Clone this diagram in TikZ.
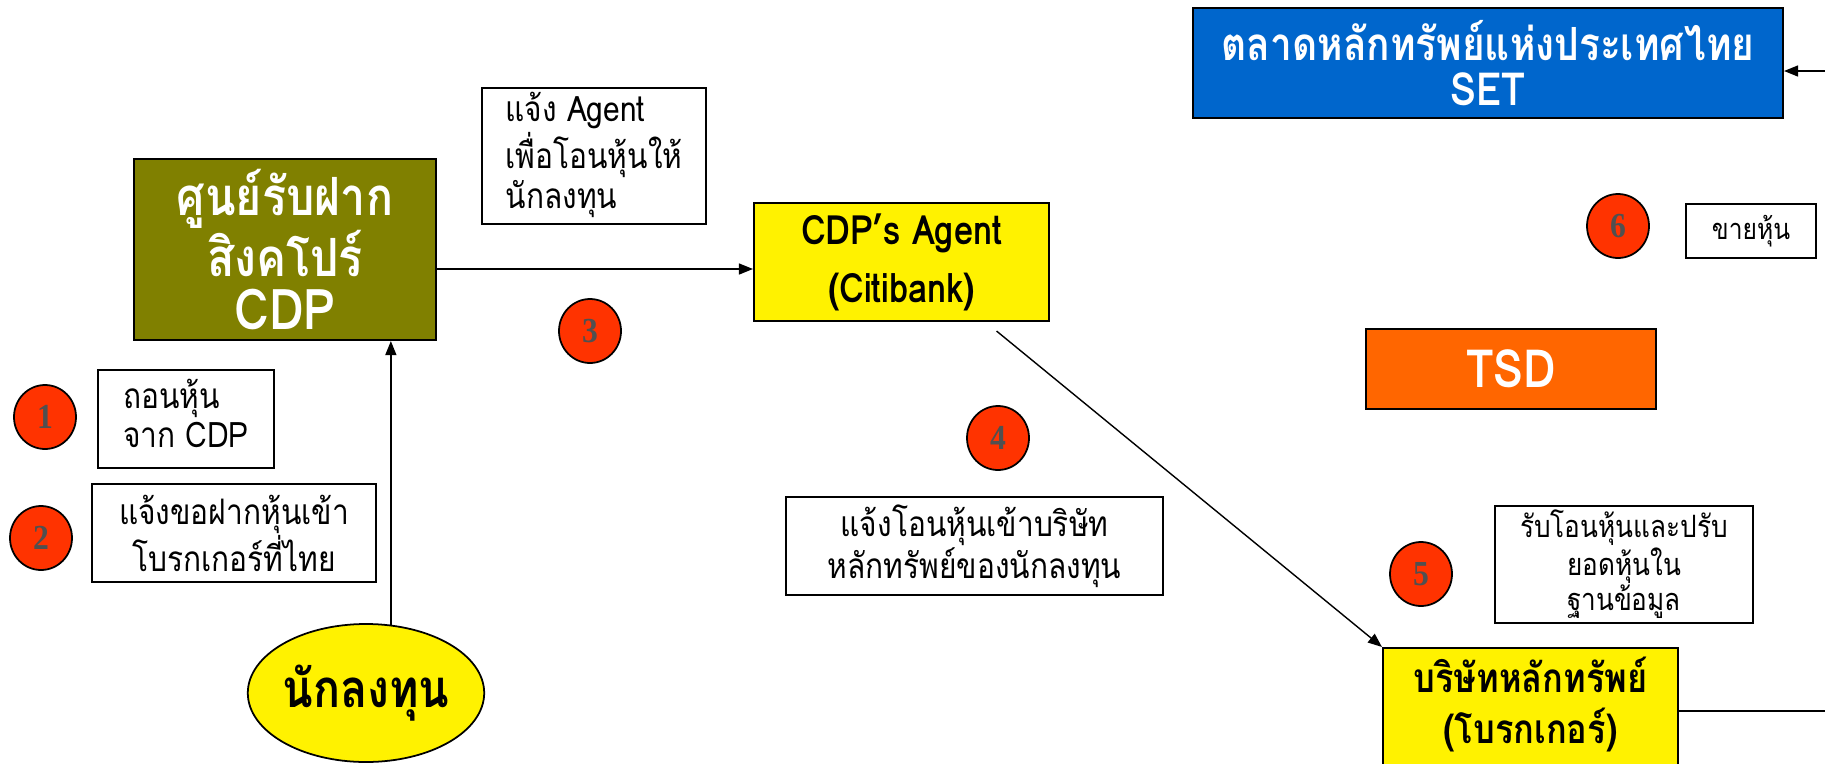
\documentclass[tikz,border=0pt]{standalone}
\usepackage{fontspec}
\newfontfamily\thaifont[Script=Thai,FakeStretch=0.85]{Loma}
\newfontfamily\numfont[FakeStretch=0.9]{Liberation Serif}
\usetikzlibrary{shapes.geometric,arrows.meta,calc}

\definecolor{cdpolive}{RGB}{128,128,0}
\definecolor{setblue}{RGB}{0,102,204}
\definecolor{tsdorange}{RGB}{255,102,0}
\definecolor{stepred}{RGB}{255,51,0}
\definecolor{stepgray}{RGB}{80,80,80}

\begin{document}
\begin{tikzpicture}[font=\thaifont]

% Styles
\tikzset{
	box/.style={
		rectangle, draw=black, line width=1.2pt,
		align=center, inner sep=0pt,
		fill=#1,
	},
	note/.style={
		rectangle, draw=black, line width=1pt,
		align=center, inner sep=0pt, fill=white,
	},
	stepnum/.style={
		ellipse, draw=black, line width=1pt, fill=stepred,
		minimum width=1.24cm, minimum height=1.28cm, inner sep=0pt,
		text=stepgray, font=\numfont\bfseries\fontsize{20}{20}\selectfont,
	},
	arrow/.style={
		line width=0.8pt, -{Triangle[length=0.28cm,width=0.22cm]},
	}
}

% Page
\useasboundingbox (0,0) rectangle (36.5,-15.26);

% Stock exchange (top right)
\node[box=setblue, minimum width=11.8cm, minimum height=2.2cm, text=white,
	font=\thaifont\bfseries\fontsize{26}{26}\selectfont] (set) at (29.76,-1.26)
	{ตลาดหลักทรัพย์แห่งประเทศไทย\\SET};

% Singapore depository
\node[box=cdpolive, minimum width=6.04cm, minimum height=3.62cm, text=white,
	font=\thaifont\bfseries\fontsize{30}{30}\selectfont] (cdp) at (5.70,-4.99)
	{ศูนย์รับฝาก\\สิงคโปร์\\{\fontsize{32}{32}\selectfont CDP}};

% Agent and note 3
\node[note, minimum width=4.48cm, minimum height=2.72cm, align=left,
	font=\thaifont\fontsize{20}{22}\selectfont] (note3) at (11.88,-3.12)
	{\begin{tabular}{@{}l@{}}แจ้ง Agent\\เพื่อโอนหุ้นให้\\นักลงทุน\end{tabular}};
\node[box=yellow, minimum width=5.9cm, minimum height=2.36cm,
	font=\thaifont\bfseries\fontsize{23}{33}\selectfont] (agent) at (18.03,-5.24)
	{CDP’s Agent\\(Citibank)};
\node[stepnum] (s3) at (11.8,-6.62) {3};

% Step 6 and TSD
\node[stepnum] (s6) at (32.36,-4.52) {6};
\node[note, minimum width=2.6cm, minimum height=1.08cm,
	font=\thaifont\fontsize{16.5}{18}\selectfont] (sell) at (35.02,-4.62) {ขายหุ้น};
\node[box=tsdorange, minimum width=5.8cm, minimum height=1.6cm, text=white,
	font=\thaifont\bfseries\fontsize{30}{30}\selectfont] (tsd) at (30.22,-7.38) {TSD};

% Steps 1 and 2
\node[stepnum] (s1) at (0.90,-8.34) {1};
\node[note, minimum width=3.52cm, minimum height=1.96cm,
	font=\thaifont\fontsize{20}{22}\selectfont] (note1) at (3.72,-8.38)
	{\begin{tabular}{@{}l@{}}ถอนหุ้น\\จาก CDP\end{tabular}};
\node[stepnum] (s2) at (0.82,-10.76) {2};
\node[note, minimum width=5.68cm, minimum height=1.96cm,
	font=\thaifont\fontsize{20}{22}\selectfont] (note2) at (4.68,-10.66)
	{แจ้งขอฝากหุ้นเข้า\\โบรกเกอร์ที่ไทย};

% Investor
\node[ellipse, draw=black, line width=1pt, fill=yellow,
	minimum width=4.48cm, minimum height=2.76cm, inner sep=0pt,
	font=\thaifont\bfseries\fontsize{30}{30}\selectfont] (invest) at (7.32,-13.86) {นักลงทุน};

% Steps 4 and 5
\node[stepnum] (s4) at (19.96,-8.76) {4};
\node[note, minimum width=7.54cm, minimum height=1.96cm,
	font=\thaifont\fontsize{20}{22}\selectfont] (note4) at (19.49,-10.92)
	{แจ้งโอนหุ้นเข้าบริษัท\\หลักทรัพย์ของนักลงทุน};
\node[stepnum] (s5) at (28.42,-11.48) {5};
\node[note, minimum width=5.16cm, minimum height=2.34cm,
	font=\thaifont\fontsize{17.5}{19}\selectfont] (note5) at (32.48,-11.29)
	{รับโอนหุ้นและปรับ\\ยอดหุ้นใน\\ฐานข้อมูล};

% Broker (bottom right, runs off the page)
\node[box=yellow, minimum width=5.9cm, minimum height=2.5cm, text depth=0.4cm,
	font=\thaifont\bfseries\fontsize{23}{29}\selectfont] (broker) at (30.61,-14.21)
	{บริษัทหลักทรัพย์\\(โบรกเกอร์)};

% Free ends at the right edge
\coordinate (setin) at (36.6,-1.42);
\coordinate (rightedge) at (36.6,-14.22);

% Arrows
\draw[arrow] (invest.70) -- (invest.70 |- cdp.south);
\draw[arrow] ([yshift=-0.39cm]cdp.east) -- ([yshift=-0.39cm]cdp.east -| agent.west);
\draw[arrow] ([yshift=-0.18cm]$(agent.south west)!0.82!(agent.south east)$) -- (broker.north west);
\draw[arrow] (setin) -- (setin -| set.east);
\draw[line width=0.8pt] (broker.east |- rightedge) -- (rightedge);

\end{tikzpicture}
\end{document}
